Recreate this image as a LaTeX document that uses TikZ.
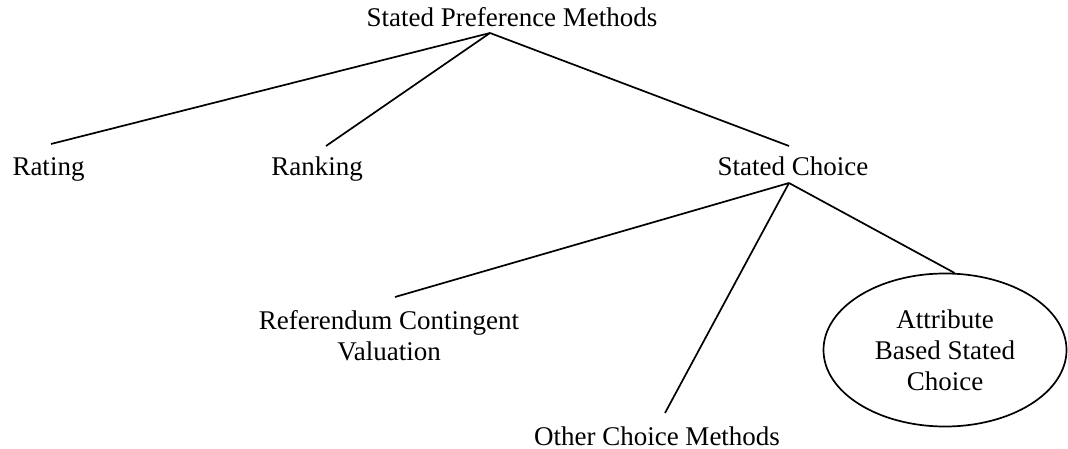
\documentclass[tikz,border=0pt]{standalone}
\usepackage{fontspec}
\setmainfont{Liberation Serif}
\usetikzlibrary{shapes.geometric}
\begin{document}
\begin{tikzpicture}[x=1pt, y=-1pt, line width=1.7pt,
    every node/.style={font=\fontsize{27}{31}\selectfont, inner sep=0pt},
    method/.style={anchor=base, align=center},
    oval/.style={draw, ellipse, align=center, minimum width=243pt, minimum height=153pt}]
    \useasboundingbox (0,0) rectangle (1068,449);

    % Top level
    \node[method] (spm) at (512,27) {Stated Preference Methods};

    % Second level
    \node[method] (rate) at (48.5,176) {Rating};
    \node[method] (rank) at (317,176) {Ranking};
    \node[method] (sc) at (793,176) {Stated Choice};

    % Third level
    \node[align=center] (rcv) at (389,336) {Referendum Contingent\\Valuation};
    \node[method] (ocm) at (657,445) {Other Choice Methods};
    \node[oval] (absc) at (945,350) {Attribute\\Based Stated\\Choice};

    % Line ends
    \coordinate (spm-j) at (490,33);
    \coordinate (rate-t) at (51,144);
    \coordinate (rank-t) at (326,146);
    \coordinate (sc-t) at (789,146);
    \coordinate (sc-j) at (789,183);
    \coordinate (rcv-t) at (395,297);
    \coordinate (ocm-t) at (665,413);

    % Connections
    \draw (spm-j) -- (rate-t);
    \draw (spm-j) -- (rank-t);
    \draw (spm-j) -- (sc-t);
    \draw (sc-j) -- (rcv-t);
    \draw (sc-j) -- (ocm-t);
    \draw (sc-j) -- (absc.83);
\end{tikzpicture}
\end{document}
